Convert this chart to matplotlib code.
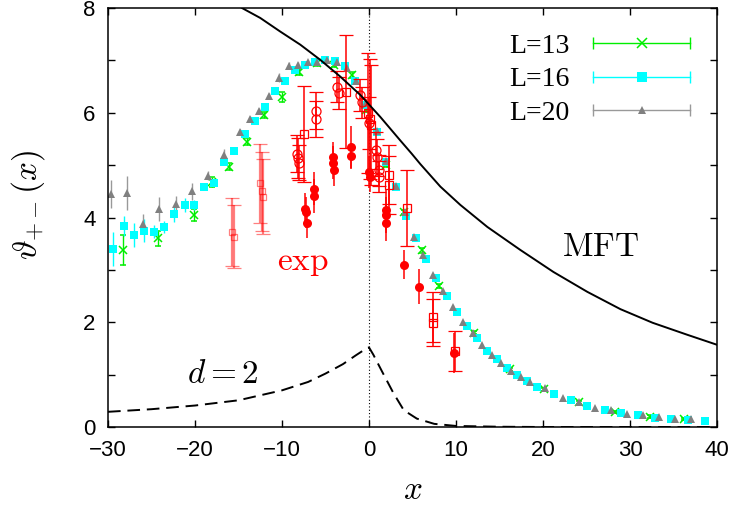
import numpy as np
import matplotlib
matplotlib.use('Agg')
from matplotlib import pyplot as plt
from matplotlib.lines import Line2D
from matplotlib.legend_handler import HandlerLine2D

plt.rcParams['mathtext.fontset'] = 'cm'
plt.rcParams['font.family'] = 'Liberation Sans'

# --- simulation data (L = 13, 16, 20) ---
x13 = [-28.3, -24.2, -20.1, -18.0, -16.1, -14.0, -12.1, -10.0, -8.0, -6.0, -4.0, -2.0,
       -0.3, 2.0, 4.0, 6.1, 8.1, 12.1, 16.2, 20.1, 24.1, 28.3, 32.3, 36.2]
y13 = [3.38, 3.6, 4.05, 4.68, 4.97, 5.45, 5.96, 6.3, 6.78, 6.95, 6.92, 6.72,
       6.05, 5.0, 4.11, 3.37, 2.69, 1.8, 1.1, 0.72, 0.47, 0.29, 0.2, 0.16]
e13 = [0.28, 0.14, 0.11, 0.1, 0.07, 0.06, 0.06, 0.09, 0.05, 0.05, 0.05, 0.05,
       0.04, 0.04, 0.04, 0.04, 0.04, 0.03, 0.03, 0.03, 0.03, 0.02, 0.02, 0.02]

x16 = [-29.4, -28.2, -27.0, -25.9, -24.7, -23.6, -22.4, -21.2, -20.1, -19.0, -17.8,
       -16.7, -15.5, -14.3, -13.1, -11.9, -10.8, -9.6, -8.5, -7.4, -6.2, -5.1, -3.9,
       -2.8, -1.6, -0.5, 0.9, 1.9, 3.1, 4.3, 5.4, 6.6, 7.7, 9.0, 10.1, 11.3, 12.4, 13.6,
       14.7, 15.9, 17.0, 18.2, 19.3, 21.3, 23.2, 25.1, 27.1, 29.0, 30.9, 32.9, 34.7,
       36.7, 38.6]
y16 = [3.4, 3.84, 3.67, 3.75, 3.73, 3.82, 4.07, 4.24, 4.24, 4.59, 4.66,
       5.06, 5.27, 5.6, 5.85, 6.11, 6.42, 6.6, 6.82, 6.91, 6.96, 7.01, 6.98,
       6.89, 6.6, 6.15, 5.64, 5.06, 4.58, 4.03, 3.6, 3.2, 2.85, 2.5, 2.2, 1.92, 1.7, 1.46,
       1.3, 1.13, 1.0, 0.88, 0.77, 0.63, 0.52, 0.41, 0.33, 0.27, 0.22, 0.17, 0.15,
       0.14, 0.12]
e16 = [0.33, 0.19, 0.23, 0.22, 0.12, 0.11, 0.15, 0.13, 0.1, 0.06, 0.05,
       0.05, 0.04, 0.04, 0.04, 0.04, 0.04, 0.03, 0.03, 0.03, 0.03, 0.03, 0.03,
       0.03, 0.03, 0.03, 0.03, 0.03, 0.03, 0.03, 0.02, 0.02, 0.02, 0.02, 0.02, 0.02, 0.02, 0.02,
       0.02, 0.02, 0.02, 0.02, 0.02, 0.02, 0.01, 0.01, 0.01, 0.01, 0.01, 0.01, 0.01,
       0.01, 0.01]

x20 = [-29.6, -27.8, -26.0, -24.1, -22.2, -20.3, -18.5, -16.7, -14.8, -13.7, -12.6,
       -11.5, -10.3, -9.2, -8.2, -7.0, -6.0, -4.8, -3.7, -2.5, -1.5, -0.3, 0.9, 1.9,
       3.1, 4.1, 5.2, 6.2, 7.4, 8.5, 9.7, 10.8, 12.0, 13.0, 14.1, 15.2, 16.3, 17.5, 18.5,
       20.2, 22.3, 24.1, 26.0, 27.8, 29.7, 31.5, 33.3, 35.2, 37.0]
y20 = [4.45, 4.47, 3.88, 4.17, 4.26, 4.5, 4.8, 5.2, 5.63, 5.88, 6.04,
       6.32, 6.67, 6.9, 6.91, 6.96, 6.96, 7.0, 6.96, 6.86, 6.6, 6.18, 5.66, 5.08,
       4.6, 4.1, 3.63, 3.28, 2.9, 2.6, 2.29, 2.0, 1.8, 1.57, 1.38, 1.22, 1.07, 0.96, 0.86,
       0.75, 0.56, 0.47, 0.37, 0.33, 0.25, 0.22, 0.2, 0.16, 0.16]
e20 = [0.27, 0.32, 0.19, 0.23, 0.15, 0.16, 0.08, 0.1, 0.06, 0.05, 0.05,
       0.06, 0.08, 0.06, 0.06, 0.05, 0.05, 0.05, 0.05, 0.05, 0.05, 0.04, 0.04, 0.04,
       0.03, 0.03, 0.03, 0.03, 0.03, 0.03, 0.03, 0.03, 0.02, 0.02, 0.02, 0.02, 0.02, 0.02, 0.02,
       0.02, 0.02, 0.02, 0.01, 0.01, 0.01, 0.01, 0.01, 0.01, 0.01]

# --- experimental data (red) ---
# faded open squares
exp_fs_x = [-15.7, -15.5, -12.5, -12.3, -12.2]
exp_fs_y = [3.72, 3.63, 4.65, 4.5, 4.4]
exp_fs_e = [0.65, 0.6, 0.75, 0.75, 0.72]
# open squares
exp_sq_x = [-7.5, -2.6, -0.1, 0.1, 0.2, 2.3, 2.3, 4.4, 7.4, 7.4, 9.9]
exp_sq_y = [5.6, 6.4, 6.0, 5.88, 5.77, 4.82, 4.62, 4.18, 2.1, 1.99, 1.45]
exp_sq_e = [0.92, 1.08, 1.15, 1.15, 1.15, 0.56, 0.56, 0.72, 0.48, 0.45, 0.38]
# open circles
exp_oc_x = [-8.3, -8.2, -8.1, -6.1, -6.1, -3.7, -3.5, -1.0, -0.8, 0.0, 0.8, 0.9, 1.2, 1.2]
exp_oc_y = [5.22, 5.14, 5.05, 6.04, 5.88, 6.5, 6.38, 6.34, 6.2, 5.8, 5.28, 5.15, 4.9, 4.78]
exp_oc_e = [0.35, 0.38, 0.33, 0.35, 0.35, 0.3, 0.3, 0.3, 0.3, 0.5, 0.35, 0.35, 0.3, 0.3]
# filled circles
exp_fc_x = [-7.4, -7.2, -7.1, -6.3, -6.3, -4.1, -4.1, -4.0, -2.1, -2.1, 0.0, 0.1,
            1.9, 1.9, 2.0, 4.0, 5.8, 9.8]
exp_fc_y = [4.17, 4.1, 3.9, 4.55, 4.41, 5.15, 5.05, 4.9, 5.35, 5.18, 4.87, 4.78,
            4.15, 4.05, 3.9, 3.1, 2.68, 1.42]
exp_fc_e = [0.3, 0.3, 0.3, 0.32, 0.32, 0.3, 0.32, 0.3, 0.4, 0.25, 0.3, 0.3,
            0.38, 0.35, 0.35, 0.27, 0.33, 0.38]

# --- theory curves ---
mft_x = [-16.0, -14.6, -12.5, -10.2, -7.9, -5.6, -3.3, -1.0, 1.3, 3.6, 4.9, 5.9, 8.2,
         10.5, 13.6, 17.4, 21.2, 25.1, 28.9, 32.6, 36.6, 40.0]
mft_y = [8.18, 8.0, 7.81, 7.55, 7.3, 7.01, 6.69, 6.34, 5.92, 5.47, 5.22, 5.02, 4.59,
         4.24, 3.82, 3.38, 2.96, 2.58, 2.25, 1.99, 1.76, 1.57]
d2_x = [-30.0, -25.0, -20.0, -15.0, -10.0, -7.0, -5.0, -3.0, -1.5, -0.3, 0.0, 0.5,
        1.5, 2.8, 4.0, 5.5, 7.5, 10.0, 15.0, 20.0, 40.0]
d2_y = [0.29, 0.34, 0.41, 0.51, 0.70, 0.86, 1.02, 1.2, 1.37, 1.5, 1.52, 1.38,
        1.06, 0.65, 0.32, 0.16, 0.06, 0.02, 0.005, 0.0, 0.0]

c13, c16, c20, cred = '#00ee00', '#00ffff', '#808080', '#ff0000'

fig = plt.figure(figsize=(7.34, 5.05), dpi=100)
ax = fig.add_axes([108 / 734, 1 - 427 / 505, 609 / 734, 419 / 505])

ax.axvline(0, color='black', lw=0.8, ls=(0, (1, 2)), zorder=1)

ax.errorbar(x13, y13, yerr=e13, fmt='x', color=c13, ms=6, mew=1.1,
            elinewidth=1, capsize=2.5, capthick=1, zorder=2)
ax.errorbar(x16, y16, yerr=e16, fmt='s', color=c16, ms=6, mew=0,
            elinewidth=1, capsize=2.5, capthick=1, zorder=2)
ax.errorbar(x20, y20, yerr=e20, fmt='^', color=c20, ms=5.5, mew=0,
            ecolor='#999999', elinewidth=1, capsize=2.5, capthick=1, zorder=2)

ax.errorbar(exp_fs_x, exp_fs_y, yerr=exp_fs_e, fmt='s', mfc='none', mec=cred, ms=5,
            mew=0.9, ecolor=cred, alpha=0.5, elinewidth=1.6, capsize=5, capthick=1.2,
            zorder=3)
ax.errorbar(exp_sq_x, exp_sq_y, yerr=exp_sq_e, fmt='s', mfc='none', mec=cred, ms=5.5,
            mew=0.9, ecolor=cred, elinewidth=1.1, capsize=5, capthick=1.1, zorder=3)
ax.errorbar(exp_oc_x, exp_oc_y, yerr=exp_oc_e, fmt='o', mfc='none', mec=cred, ms=6.5,
            mew=0.9, ecolor=cred, elinewidth=1.1, capsize=5, capthick=1.1, zorder=3)
ax.errorbar(exp_fc_x, exp_fc_y, yerr=exp_fc_e, fmt='o', color=cred, ms=6.5, mew=0,
            elinewidth=1.1, capsize=5, capthick=1.1, zorder=3)

ax.plot(mft_x, mft_y, color='black', lw=1.4, zorder=4)
ax.plot(d2_x, d2_y, color='black', lw=1.4, dashes=(6.5, 3.5), zorder=4)

ax.text(26.6, 3.42, r'$\mathrm{MFT}$', fontsize=24, ha='center', va='center')
ax.text(-7.6, 3.15, r'$\mathrm{exp}$', fontsize=24, ha='center', va='center', color=cred)
ax.text(-16.8, 1.0, r'$d=2$', fontsize=24, ha='center', va='center')

ax.set_xlim(-30, 40)
ax.set_ylim(0, 8)
ax.set_xticks(np.arange(-30, 41, 10))
ax.set_yticks(np.arange(0, 9, 2))
ax.set_yticks(np.arange(1, 8, 2), minor=True)
ax.tick_params(which='both', direction='in', top=True, right=True, length=5,
               width=1, labelsize=16, pad=9)
for sp in ax.spines.values():
    sp.set_linewidth(1.1)

ax.set_xlabel(r'$x$', fontsize=24)
ax.xaxis.set_label_coords(0.5, -0.115)
ax.set_ylabel(r'$\vartheta_{+-}(x)$', fontsize=24)
ax.yaxis.set_label_coords(-0.1, 0.53)

# legend: gnuplot-style horizontal error bar samples
handles, hmap = [], {}
for col, mk, ms in [(c13, 'x', 7), (c16, 's', 7), (c20, '^', 6)]:
    bar = Line2D([], [], color=col if col != c20 else '#999999', lw=1,
                 marker='|', ms=9, mew=1)
    pt = Line2D([], [], ls='none', marker=mk, color=col, ms=ms,
                mew=1.1 if mk == 'x' else 0)
    hmap[bar] = HandlerLine2D(numpoints=2)
    hmap[pt] = HandlerLine2D(numpoints=1)
    handles.append((bar, pt))
ax.legend(handles, ['L=13', 'L=16', 'L=20'], handler_map=hmap, loc='upper right',
          bbox_to_anchor=(0.97, 0.94), frameon=False, markerfirst=False,
          prop={'family': 'Liberation Serif', 'size': 20}, handlelength=4.1,
          handletextpad=0.56, labelspacing=0.3, borderpad=0, borderaxespad=0)

fig.savefig('out.png', dpi=100)
